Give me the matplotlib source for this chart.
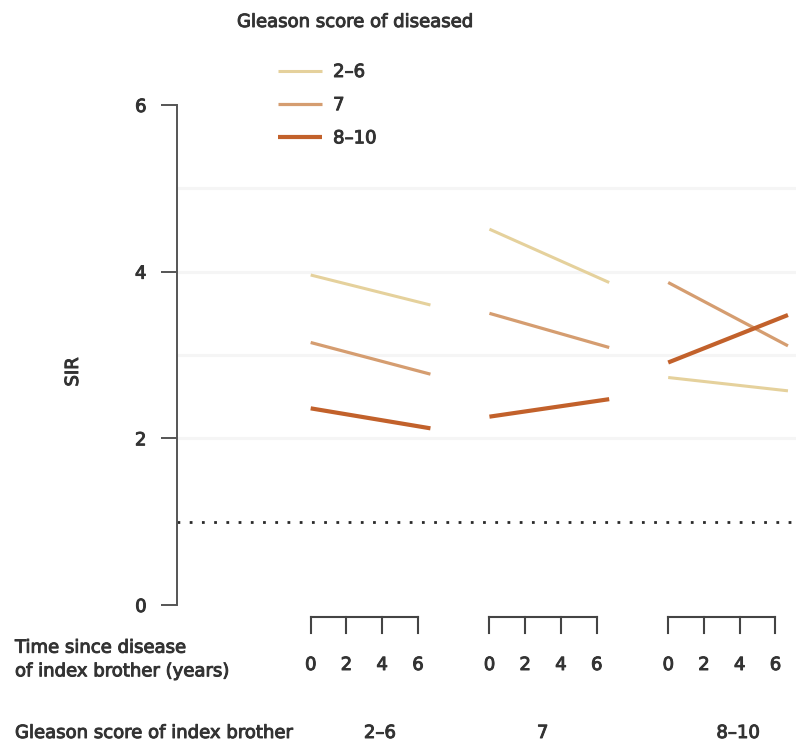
import matplotlib
matplotlib.use("Agg")
import matplotlib.pyplot as plt
import matplotlib.transforms as mtransforms
import matplotlib.patheffects as pe

# ---- data ----
index_groups = ["2–6", "7", "8–10"]          # Gleason score of index brother
diseased_labels = ["2–6", "7", "8–10"]       # Gleason score of diseased
time_ticks = [0, 2, 4, 6]
time_start = 0.0
time_end = 6.7

sir_26_start = [3.96, 4.51, 2.73]
sir_26_end = [3.60, 3.87, 2.57]
sir_7_start = [3.15, 3.50, 3.87]
sir_7_end = [2.77, 3.09, 3.11]
sir_810_start = [2.36, 2.26, 2.91]
sir_810_end = [2.12, 2.47, 3.48]

reference_sir = 1.0
yticks = [0, 2, 4, 6]
gridlines = [2, 3, 4, 5]

# ---- style ----
W, H = 796, 742
colors = ["#e5d19c", "#d59d70", "#c2612b"]
widths = [2.2, 2.3, 3.0]
txt = "#333333"
axc = "#555555"
fs = 13
stroke = [pe.withStroke(linewidth=0.7, foreground=txt)]
plt.rcParams["font.family"] = ["DejaVu Sans"]

fig = plt.figure(figsize=(W / 100, H / 100), dpi=100)
ax = fig.add_axes([177 / W, 137 / H, 619 / W, 500 / H])

group_offsets = [0, 10, 20]
x0 = -7.478
x1 = 27.15
ax.set_xlim(x0, x1)
ax.set_ylim(0, 6)

for g in gridlines:
    ax.axhline(g, color="#f5f5f5", lw=2.2, zorder=0)
ax.axhline(reference_sir, color="#2a2a2a", lw=2.0, linestyle=(0, (1, 3.4)), zorder=1)

starts = [sir_26_start, sir_7_start, sir_810_start]
ends = [sir_26_end, sir_7_end, sir_810_end]
handles = []
for s in range(3):
    for gi, off in enumerate(group_offsets):
        ln, = ax.plot([off + time_start, off + time_end], [starts[s][gi], ends[s][gi]],
                      color=colors[s], lw=widths[s], solid_capstyle="butt", zorder=3 + s,
                      clip_on=False)
    handles.append(ln)

# axes styling
for sp in ["top", "right", "bottom"]:
    ax.spines[sp].set_visible(False)
ax.spines["left"].set_bounds(0, 6)
ax.spines["left"].set_color(axc)
ax.spines["left"].set_linewidth(1.4)
ax.set_xticks([])
ax.set_yticks(yticks)
ax.tick_params(axis="y", length=11.5, width=1.4, color=axc, pad=10.5,
               labelsize=fs, labelcolor=txt)
for lab in ax.get_yticklabels():
    lab.set_path_effects(stroke)
ax.set_ylabel("SIR", fontsize=fs, color=txt, path_effects=stroke)
ax.yaxis.set_label_coords((82 - 177) / 619, (605 - 372) / 500)

# bottom brackets (time axis per group)
trans = mtransforms.blended_transform_factory(ax.transData, fig.transFigure)
def fy(py):
    return 1 - py / H

for off in group_offsets:
    ax.plot([off + time_ticks[0], off + time_ticks[-1]], [fy(617), fy(617)],
            transform=trans, clip_on=False, color="#444444", lw=1.5,
            solid_capstyle="projecting")
    for t in time_ticks:
        ax.plot([off + t, off + t], [fy(617), fy(633)], transform=trans,
                clip_on=False, color="#444444", lw=1.5)
        ax.text(off + t, fy(665), str(t), transform=trans, ha="center", va="center",
                fontsize=fs, color=txt, path_effects=stroke)

group_label_x = [3.87, 12.98, 23.9]
for lbl, gx in zip(index_groups, group_label_x):
    ax.text(gx, fy(733), lbl, transform=trans, ha="center", va="center",
            fontsize=fs, color=txt, path_effects=stroke)

fig.text(15 / W, fy(659.5), "Time since disease\nof index brother (years)",
         ha="left", va="center", fontsize=fs, color=txt, linespacing=1.4,
         path_effects=stroke)
fig.text(15 / W, fy(733), "Gleason score of index brother", ha="left", va="center",
         fontsize=fs, color=txt, path_effects=stroke)

# legend
fig.text(237 / W, fy(22), "Gleason score of diseased", ha="left", va="center",
         fontsize=fs, color=txt, path_effects=stroke)
leg = ax.legend(handles, diseased_labels, loc="upper left",
                bbox_to_anchor=(278 / W, fy(63)), bbox_transform=fig.transFigure,
                frameon=False, fontsize=fs, handlelength=2.45,
                handletextpad=0.6, labelspacing=0.84, borderpad=0, borderaxespad=0)
for t in leg.get_texts():
    t.set_color(txt)
    t.set_path_effects(stroke)

fig.savefig("out.png", dpi=100, facecolor="white")
